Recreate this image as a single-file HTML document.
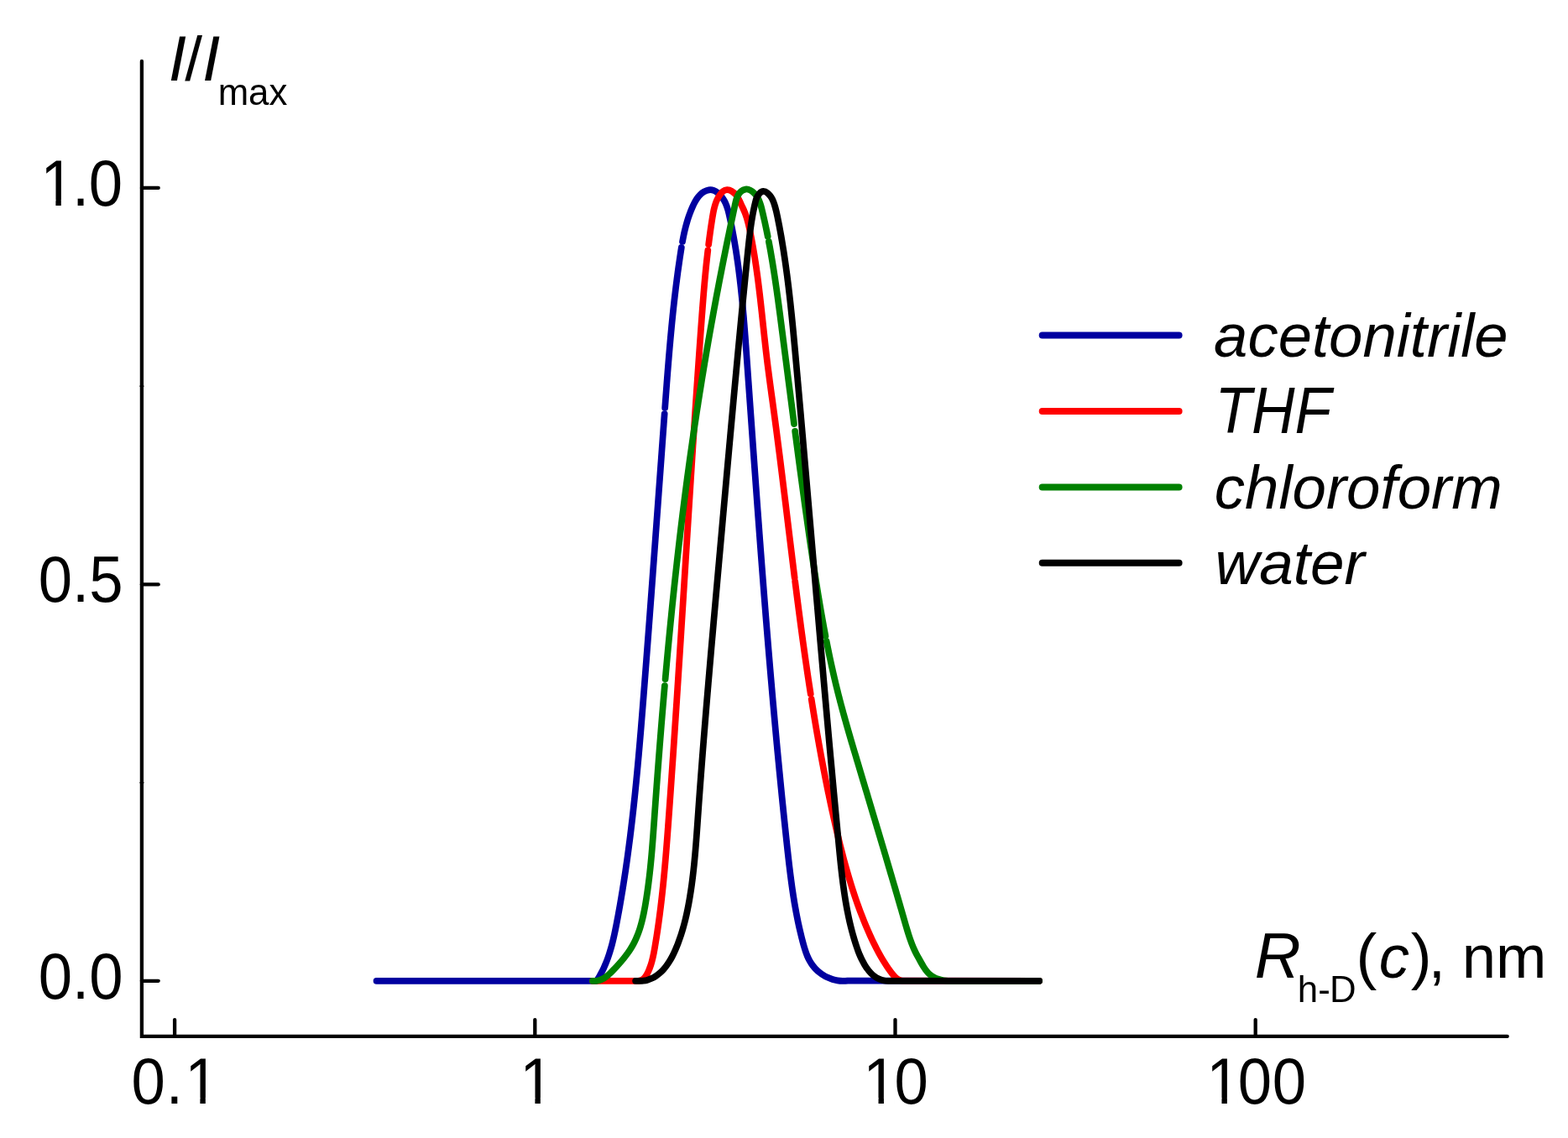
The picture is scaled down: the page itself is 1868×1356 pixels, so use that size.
<!DOCTYPE html>
<html lang="en"><head><meta charset="utf-8"><title>Hydrodynamic radius distributions</title>
<style>
html,body{margin:0;padding:0;background:#fff;}
body{width:1868px;height:1356px;overflow:hidden;}
svg{display:block;}
text{font-family:"Liberation Sans",Arial,Helvetica,sans-serif;fill:#000;font-size:72.5px;font-kerning:none;}
.s{font-size:43.8px;}
.i{font-style:italic;}
.ax{stroke:#000;stroke-width:4.3;stroke-linecap:round;stroke-linejoin:miter;fill:none;}
.c{fill:none;stroke-width:7.75;stroke-linecap:round;stroke-linejoin:round;}
.l{fill:none;stroke-width:8;stroke-linecap:round;}
</style></head><body>
<svg width="1868" height="1356" viewBox="0 0 1868 1356" role="img" aria-label="Normalised intensity distributions of hydrodynamic radius in four solvents">
<defs><clipPath id="c1"><rect x="-6" y="-80" width="420" height="73.58"/><rect x="18.23" y="-80" width="6.41" height="86"/><rect x="37.6" y="-80" width="380" height="100"/></clipPath><clipPath id="c2"><rect x="-6" y="-80" width="420" height="73.58"/><rect x="82.00" y="-80" width="6.41" height="86"/><rect x="-6" y="-80" width="74.37" height="100"/></clipPath></defs>
<rect width="1868" height="1356" fill="#fff"/>
<g class="c" stroke="#0000a0">
<path d="M448.50 1168.85L710.62 1168.85C711.744 1167.158 712.813 1165.639 713.832 1163.906C714.850 1162.172 715.818 1160.419 716.739 1158.648C717.661 1156.876 718.535 1155.087 719.367 1153.281C720.199 1151.475 720.989 1149.653 721.739 1147.816C722.489 1145.979 723.201 1144.127 723.878 1142.262C724.555 1140.397 725.197 1138.519 725.808 1136.629C726.419 1134.740 726.999 1132.838 727.552 1130.927C728.105 1129.016 728.631 1127.095 729.134 1125.166C729.638 1123.237 730.118 1121.300 730.579 1119.356C731.040 1117.412 731.482 1115.461 731.909 1113.506C732.335 1111.550 732.747 1109.590 733.148 1107.626C733.548 1105.663 733.937 1103.696 734.319 1101.727C734.701 1099.758 735.076 1097.788 735.447 1095.818C735.818 1093.848 736.185 1091.877 736.547 1089.905C736.909 1087.934 737.267 1085.962 737.621 1083.990C737.975 1082.018 738.324 1080.045 738.669 1078.072C739.014 1076.099 739.355 1074.126 739.692 1072.152C740.029 1070.178 740.362 1068.203 740.690 1066.228C741.019 1064.253 741.344 1062.278 741.665 1060.303C741.986 1058.327 742.302 1056.351 742.616 1054.374C742.929 1052.398 743.238 1050.421 743.544 1048.444C743.849 1046.466 744.151 1044.489 744.449 1042.511C744.748 1040.533 745.042 1038.554 745.333 1036.575C745.624 1034.597 745.912 1032.617 746.196 1030.638C746.480 1028.658 746.761 1026.678 747.038 1024.698C747.315 1022.718 747.589 1020.737 747.860 1018.756C748.130 1016.775 748.398 1014.794 748.662 1012.813C748.926 1010.831 749.187 1008.849 749.445 1006.867C749.703 1004.885 749.958 1002.902 750.210 1000.919C750.462 998.936 750.711 996.953 750.957 994.970C751.203 992.986 751.446 991.002 751.686 989.018C751.927 987.034 752.164 985.050 752.399 983.065C752.634 981.081 752.866 979.096 753.095 977.111C753.325 975.126 753.552 973.140 753.776 971.155C754.000 969.169 754.222 967.183 754.441 965.197C754.661 963.211 754.878 961.224 755.092 959.238C755.307 957.251 755.519 955.264 755.729 953.277C755.939 951.290 756.147 949.302 756.352 947.315C756.558 945.327 756.761 943.340 756.963 941.352C757.164 939.364 757.363 937.376 757.560 935.387C757.758 933.399 757.953 931.410 758.146 929.422C758.340 927.433 758.531 925.444 758.721 923.455C758.911 921.466 759.099 919.477 759.285 917.487C759.471 915.498 759.656 913.508 759.839 911.518C760.022 909.529 760.203 907.539 760.383 905.549C760.563 903.559 760.741 901.569 760.918 899.578C761.095 897.588 761.270 895.598 761.444 893.607C761.619 891.617 761.791 889.626 761.963 887.635C762.134 885.645 762.305 883.654 762.474 881.663C762.643 879.672 762.811 877.681 762.978 875.690C763.145 873.698 763.311 871.707 763.476 869.716C763.641 867.725 763.805 865.733 763.968 863.742C764.131 861.750 764.293 859.759 764.454 857.767C764.616 855.776 764.776 853.784 764.936 851.792C765.096 849.801 765.256 847.809 765.414 845.817C765.573 843.825 765.731 841.834 765.889 839.842C766.046 837.850 766.203 835.858 766.360 833.866C766.517 831.875 766.673 829.883 766.829 827.891C766.985 825.899 767.140 823.907 767.296 821.915C767.451 819.923 767.606 817.931 767.761 815.940C767.916 813.948 768.070 811.956 768.225 809.964C768.379 807.972 768.533 805.980 768.687 803.988C768.841 801.997 768.994 800.005 769.148 798.013C769.301 796.021 769.454 794.029 769.607 792.037C769.760 790.045 769.913 788.054 770.065 786.062C770.218 784.070 770.370 782.078 770.522 780.086C770.674 778.094 770.826 776.102 770.978 774.110C771.129 772.118 771.281 770.126 771.432 768.135C771.583 766.143 771.734 764.151 771.885 762.159C772.036 760.167 772.186 758.175 772.337 756.183C772.487 754.191 772.638 752.199 772.788 750.207C772.938 748.215 773.088 746.223 773.237 744.231C773.387 742.239 773.537 740.247 773.686 738.255C773.835 736.263 773.984 734.271 774.134 732.279C774.283 730.287 774.431 728.294 774.580 726.302C774.729 724.310 774.877 722.318 775.026 720.326C775.174 718.334 775.323 716.342 775.471 714.349C775.619 712.357 775.767 710.365 775.915 708.373C776.063 706.380 776.210 704.388 776.358 702.396C776.505 700.403 776.653 698.411 776.800 696.419C776.948 694.426 777.095 692.434 777.242 690.442C777.389 688.449 777.536 686.457 777.683 684.464C777.830 682.472 777.977 680.479 778.123 678.487C778.270 676.494 778.416 674.502 778.563 672.509C778.709 670.517 778.856 668.524 779.002 666.531C779.148 664.539 779.294 662.546 779.441 660.553C779.587 658.561 779.733 656.568 779.879 654.575C780.025 652.582 780.170 650.590 780.316 648.597C780.462 646.604 780.608 644.611 780.753 642.618C780.899 640.625 781.045 638.632 781.190 636.639C781.336 634.646 781.481 632.653 781.627 630.660C781.772 628.667 781.917 626.674 782.063 624.681C782.208 622.687 782.353 620.694 782.499 618.701C782.644 616.708 782.789 614.714 782.934 612.721C783.079 610.728 783.225 608.734 783.370 606.741C783.515 604.747 783.660 602.754 783.805 600.760C783.950 598.767 784.095 596.773 784.240 594.780C784.385 592.786 784.530 590.792 784.675 588.799C784.820 586.805 784.965 584.811 785.110 582.817C785.255 580.823 785.401 578.830 785.546 576.836C785.691 574.842 785.836 572.848 785.981 570.854C786.126 568.860 786.271 566.866 786.416 564.871C786.561 562.877 786.706 560.883 786.851 558.889C786.996 556.894 787.142 554.900 787.287 552.906C787.432 550.911 787.577 548.917 787.722 546.922C787.868 544.928 788.013 542.933 788.158 540.939C788.304 538.944 788.449 536.949 788.595 534.955C788.740 532.960 788.886 530.965 789.031 528.970C789.177 526.975 789.322 524.980 789.468 522.985C789.614 520.990 789.759 518.995 789.905 517.000C790.051 515.005 790.197 513.010 790.343 511.014C790.489 509.019 790.635 507.024 790.781 505.028C790.927 503.033 791.074 501.037 791.220 499.042C791.366 497.046 791.513 495.051 791.659 493.055"/>
<path d="M792.18 485.97C792.327 483.966 792.474 481.967 792.622 479.967C792.769 477.968 792.917 475.969 793.065 473.970C793.214 471.970 793.362 469.971 793.512 467.972C793.661 465.972 793.811 463.973 793.962 461.974C794.112 459.975 794.264 457.976 794.416 455.977C794.569 453.978 794.722 451.979 794.877 449.980C795.031 447.982 795.186 445.983 795.343 443.985C795.500 441.986 795.658 439.988 795.817 437.990C795.977 435.992 796.138 433.994 796.300 431.997C796.462 429.999 796.626 428.002 796.792 426.005C796.957 424.008 797.124 422.011 797.294 420.015C797.463 418.018 797.634 416.022 797.807 414.027C797.980 412.031 798.155 410.035 798.332 408.040C798.509 406.045 798.688 404.051 798.870 402.057C799.051 400.062 799.235 398.069 799.422 396.075C799.608 394.082 799.797 392.089 799.988 390.097C800.180 388.104 800.374 386.112 800.571 384.121C800.768 382.129 800.968 380.139 801.170 378.148C801.373 376.158 801.578 374.168 801.787 372.179C801.996 370.190 802.207 368.201 802.422 366.213C802.637 364.225 802.855 362.238 803.077 360.251C803.299 358.265 803.524 356.279 803.752 354.293C803.981 352.308 804.213 350.323 804.449 348.339C804.684 346.355 804.924 344.372 805.167 342.390C805.411 340.407 805.658 338.426 805.909 336.445C806.160 334.464 806.416 332.484 806.675 330.505C806.934 328.526 807.198 326.547 807.466 324.570C807.734 322.592 808.006 320.615 808.283 318.640C808.559 316.664 808.840 314.689 809.126 312.715C809.412 310.741 809.702 308.768 809.998 306.796C810.293 304.824 810.593 302.853 810.898 300.883C811.203 298.913 811.514 296.944 811.836 294.977"/>
<path d="M813.05 287.91C813.404 285.951 813.776 283.993 814.170 282.038C814.563 280.082 814.978 278.131 815.420 276.184C815.862 274.237 816.330 272.295 816.829 270.358C817.329 268.420 817.860 266.488 818.427 264.563C818.994 262.637 819.598 260.717 820.243 258.804C820.888 256.891 821.574 254.984 822.306 253.086C823.038 251.187 823.816 249.296 824.646 247.413C825.475 245.531 826.351 243.647 827.299 241.808C828.248 239.970 829.273 238.181 830.409 236.508C831.545 234.834 832.792 233.275 834.186 231.896C835.581 230.517 837.122 229.318 838.847 228.363C840.571 227.408 842.512 226.677 844.474 226.376C846.435 226.074 848.380 226.265 850.209 226.906C852.038 227.547 853.768 228.604 855.359 229.907C856.950 231.209 858.402 232.759 859.676 234.385C860.951 236.012 862.045 237.712 862.997 239.470C863.950 241.227 864.760 243.042 865.467 244.898C866.174 246.754 866.777 248.650 867.315 250.572C867.853 252.494 868.325 254.440 868.771 256.395C869.216 258.350 869.639 260.312 870.057 262.273C870.475 264.234 870.883 266.197 871.281 268.160C871.680 270.124 872.069 272.089 872.449 274.055C872.830 276.021 873.201 277.989 873.563 279.957C873.926 281.926 874.280 283.896 874.625 285.867C874.970 287.838 875.308 289.810 875.637 291.783C875.966 293.756 876.287 295.730 876.600 297.705C876.914 299.681 877.219 301.657 877.518 303.634C877.816 305.612 878.107 307.590 878.391 309.569C878.675 311.549 878.953 313.529 879.223 315.510C879.494 317.491 879.757 319.473 880.015 321.456C880.273 323.439 880.524 325.422 880.769 327.407C881.015 329.391 881.254 331.377 881.488 333.363C881.722 335.349 881.950 337.336 882.173 339.323C882.396 341.311 882.613 343.299 882.826 345.288C883.039 347.277 883.247 349.267 883.450 351.257C883.653 353.247 883.852 355.238 884.046 357.229C884.241 359.221 884.431 361.213 884.617 363.205C884.804 365.198 884.986 367.191 885.165 369.184C885.344 371.178 885.519 373.172 885.692 375.166C885.864 377.161 886.033 379.155 886.199 381.151C886.365 383.146 886.528 385.141 886.689 387.137C886.850 389.133 887.008 391.130 887.164 393.126C887.320 395.123 887.474 397.120 887.626 399.117C887.778 401.114 887.928 403.111 888.077 405.109C888.226 407.106 888.373 409.104 888.520 411.102C888.666 413.100 888.811 415.098 888.955 417.096C889.099 419.094 889.243 421.092 889.386 423.090C889.529 425.089 889.671 427.087 889.814 429.085C889.956 431.084 890.099 433.082 890.241 435.080C890.383 437.079 890.526 439.077 890.668 441.075C890.810 443.074 890.952 445.072 891.094 447.070C891.237 449.069 891.379 451.067 891.521 453.065C891.663 455.064 891.805 457.062 891.947 459.060C892.089 461.059 892.231 463.057 892.374 465.055C892.516 467.054 892.658 469.052 892.800 471.050C892.942 473.048 893.084 475.047 893.226 477.045C893.368 479.043 893.510 481.042 893.652 483.040C893.795 485.038 893.937 487.036 894.079 489.035C894.221 491.033 894.363 493.031 894.506 495.029C894.648 497.028 894.790 499.026 894.933 501.024C895.075 503.022 895.218 505.020 895.360 507.019C895.502 509.017 895.645 511.015 895.788 513.013C895.930 515.011 896.073 517.009 896.216 519.008C896.358 521.006 896.501 523.004 896.644 525.002C896.787 527.000 896.930 528.998 897.073 530.996C897.216 532.994 897.360 534.992 897.503 536.990C897.646 538.988 897.790 540.986 897.933 542.984C898.077 544.982 898.220 546.980 898.364 548.978C898.508 550.976 898.652 552.974 898.796 554.972C898.940 556.970 899.084 558.968 899.228 560.966C899.373 562.964 899.517 564.962 899.662 566.960C899.806 568.958 899.951 570.955 900.096 572.953C900.241 574.951 900.386 576.949 900.531 578.947C900.676 580.944 900.822 582.942 900.967 584.940C901.113 586.938 901.259 588.935 901.404 590.933C901.550 592.931 901.697 594.928 901.843 596.926C901.989 598.924 902.136 600.921 902.282 602.919C902.429 604.916 902.576 606.914 902.723 608.911C902.870 610.909 903.018 612.907 903.165 614.904C903.313 616.901 903.460 618.899 903.608 620.896C903.756 622.894 903.905 624.891 904.053 626.889C904.202 628.886 904.350 630.883 904.499 632.881C904.648 634.878 904.798 636.875 904.947 638.872C905.097 640.870 905.246 642.867 905.396 644.864C905.546 646.861 905.697 648.858 905.847 650.856C905.998 652.853 906.148 654.850 906.300 656.847C906.451 658.844 906.602 660.841 906.754 662.838C906.905 664.835 907.057 666.832 907.210 668.829C907.362 670.826 907.515 672.822 907.667 674.819C907.820 676.816 907.974 678.813 908.127 680.810C908.281 682.806 908.434 684.803 908.589 686.800C908.743 688.797 908.897 690.793 909.052 692.790C909.207 694.787 909.362 696.783 909.518 698.780C909.673 700.776 909.829 702.773 909.985 704.769C910.142 706.766 910.298 708.762 910.455 710.758C910.612 712.755 910.769 714.751 910.927 716.747C911.085 718.744 911.243 720.740 911.401 722.736C911.560 724.732 911.719 726.729 911.878 728.725C912.037 730.721 912.197 732.717 912.357 734.713C912.517 736.709 912.677 738.705 912.838 740.701C912.999 742.697 913.160 744.693 913.322 746.689C913.483 748.684 913.645 750.680 913.808 752.676C913.971 754.672 914.133 756.667 914.297 758.663C914.460 760.659 914.624 762.654 914.788 764.650C914.953 766.645 915.117 768.641 915.282 770.636C915.448 772.632 915.613 774.627 915.779 776.623C915.945 778.618 916.112 780.613 916.279 782.609C916.446 784.604 916.613 786.599 916.781 788.594C916.949 790.589 917.118 792.584 917.287 794.579C917.456 796.574 917.625 798.569 917.795 800.564C917.965 802.559 918.136 804.554 918.306 806.549C918.477 808.544 918.649 810.539 918.821 812.533C918.993 814.528 919.165 816.523 919.338 818.517C919.511 820.512 919.685 822.506 919.859 824.501C920.033 826.495 920.208 828.490 920.383 830.484C920.558 832.479 920.734 834.473 920.910 836.467C921.086 838.461 921.263 840.456 921.440 842.450C921.618 844.444 921.796 846.438 921.974 848.432C922.153 850.426 922.332 852.420 922.512 854.414C922.691 856.408 922.872 858.401 923.052 860.395C923.233 862.389 923.415 864.383 923.597 866.376C923.779 868.370 923.961 870.364 924.145 872.357C924.328 874.351 924.512 876.344 924.696 878.337C924.881 880.331 925.066 882.324 925.251 884.317C925.437 886.310 925.623 888.304 925.810 890.297C925.997 892.290 926.185 894.283 926.373 896.276C926.561 898.269 926.750 900.262 926.940 902.255C927.129 904.247 927.320 906.240 927.510 908.233C927.701 910.225 927.893 912.218 928.085 914.211C928.277 916.203 928.470 918.196 928.664 920.188C928.857 922.180 929.051 924.173 929.246 926.165C929.441 928.157 929.637 930.149 929.833 932.142C930.029 934.134 930.226 936.126 930.424 938.118C930.622 940.110 930.820 942.102 931.019 944.093C931.218 946.085 931.418 948.077 931.619 950.069C931.819 952.060 932.021 954.052 932.223 956.043C932.425 958.035 932.627 960.026 932.831 962.018C933.034 964.009 933.239 966.000 933.444 967.991C933.649 969.983 933.854 971.974 934.061 973.965C934.267 975.956 934.475 977.947 934.683 979.938C934.891 981.928 935.100 983.919 935.309 985.910C935.519 987.901 935.729 989.891 935.940 991.882C936.151 993.872 936.363 995.863 936.576 997.853C936.789 999.844 937.002 1001.834 937.217 1003.824C937.431 1005.814 937.646 1007.804 937.862 1009.794C938.078 1011.784 938.296 1013.774 938.515 1015.764C938.734 1017.754 938.956 1019.743 939.180 1021.732C939.403 1023.721 939.630 1025.710 939.860 1027.698C940.090 1029.687 940.323 1031.674 940.560 1033.662C940.798 1035.649 941.039 1037.636 941.285 1039.622C941.532 1041.608 941.783 1043.594 942.039 1045.579C942.296 1047.564 942.558 1049.548 942.826 1051.531C943.094 1053.515 943.369 1055.497 943.650 1057.479C943.931 1059.461 944.220 1061.441 944.516 1063.421C944.812 1065.401 945.116 1067.380 945.428 1069.357C945.740 1071.335 946.060 1073.311 946.390 1075.287C946.719 1077.262 947.058 1079.236 947.406 1081.209C947.755 1083.182 948.113 1085.154 948.482 1087.124C948.850 1089.094 949.230 1091.063 949.620 1093.030C950.011 1094.997 950.413 1096.963 950.826 1098.928C951.240 1100.892 951.666 1102.855 952.104 1104.816C952.542 1106.777 952.993 1108.736 953.458 1110.694C953.922 1112.651 954.400 1114.607 954.892 1116.561C955.384 1118.515 955.890 1120.467 956.411 1122.417C956.932 1124.367 957.464 1126.317 958.029 1128.255C958.593 1130.192 959.189 1132.116 959.840 1134.011C960.490 1135.907 961.196 1137.774 961.978 1139.598C962.760 1141.422 963.619 1143.202 964.578 1144.925C965.536 1146.647 966.596 1148.311 967.772 1149.903C968.948 1151.494 970.235 1153.013 971.617 1154.450C973.000 1155.886 974.478 1157.239 976.038 1158.498C977.599 1159.757 979.240 1160.921 980.950 1161.980C982.659 1163.038 984.435 1163.991 986.265 1164.828C988.094 1165.664 989.976 1166.383 991.897 1166.975C993.818 1167.566 995.777 1168.029 997.761 1168.354C999.744 1168.678 1001.752 1168.816 1003.769 1168.850C1005.787 1168.850 1007.814 1168.815 1009.837 1168.537L1238.10 1168.85"/>
</g>
<g class="c" stroke="#ff0000">
<path d="M705.95 1168.85L760.51 1168.85C762.705 1168.513 764.514 1167.875 766.038 1166.701C767.562 1165.528 768.802 1164.020 769.863 1162.345C770.924 1160.671 771.809 1158.833 772.618 1156.988C773.426 1155.144 774.149 1153.276 774.801 1151.389C775.453 1149.501 776.034 1147.595 776.560 1145.673C777.087 1143.751 777.558 1141.815 777.990 1139.868C778.422 1137.921 778.814 1135.964 779.182 1134.001C779.551 1132.038 779.895 1130.069 780.230 1128.099C780.566 1126.129 780.894 1124.158 781.216 1122.186C781.538 1120.214 781.854 1118.242 782.162 1116.269C782.471 1114.295 782.774 1112.321 783.070 1110.347C783.366 1108.372 783.657 1106.396 783.941 1104.420C784.225 1102.444 784.504 1100.467 784.776 1098.490C785.049 1096.512 785.316 1094.534 785.578 1092.556C785.839 1090.577 786.096 1088.597 786.347 1086.617C786.598 1084.637 786.844 1082.657 787.085 1080.676C787.326 1078.695 787.562 1076.713 787.793 1074.731C788.024 1072.749 788.251 1070.766 788.473 1068.783C788.696 1066.799 788.913 1064.816 789.127 1062.831C789.341 1060.847 789.550 1058.863 789.756 1056.877C789.961 1054.892 790.163 1052.907 790.361 1050.921C790.559 1048.935 790.753 1046.948 790.944 1044.962C791.134 1042.975 791.322 1040.988 791.506 1039.000C791.690 1037.013 791.871 1035.025 792.049 1033.037C792.227 1031.049 792.402 1029.060 792.574 1027.071C792.746 1025.083 792.916 1023.094 793.083 1021.104C793.250 1019.115 793.415 1017.126 793.577 1015.136C793.740 1013.146 793.900 1011.156 794.058 1009.166C794.216 1007.176 794.372 1005.185 794.527 1003.195C794.682 1001.204 794.834 999.213 794.986 997.223C795.137 995.232 795.287 993.241 795.435 991.250C795.584 989.259 795.731 987.267 795.878 985.276C796.024 983.285 796.170 981.294 796.314 979.302C796.459 977.311 796.603 975.320 796.746 973.328C796.889 971.337 797.032 969.345 797.175 967.354C797.318 965.362 797.460 963.371 797.602 961.380C797.744 959.388 797.885 957.397 798.026 955.406C798.168 953.414 798.308 951.423 798.449 949.431C798.589 947.440 798.730 945.449 798.870 943.457C799.009 941.466 799.149 939.475 799.288 937.483C799.427 935.492 799.566 933.501 799.705 931.509C799.843 929.518 799.982 927.527 800.120 925.535C800.257 923.544 800.395 921.553 800.532 919.561C800.670 917.570 800.807 915.579 800.944 913.587C801.080 911.596 801.217 909.605 801.353 907.613C801.489 905.622 801.625 903.631 801.761 901.639C801.896 899.648 802.032 897.657 802.167 895.665C802.302 893.674 802.437 891.683 802.571 889.691C802.706 887.700 802.840 885.709 802.974 883.717C803.108 881.726 803.242 879.735 803.375 877.743C803.509 875.752 803.642 873.760 803.775 871.769C803.908 869.778 804.041 867.786 804.173 865.795C804.306 863.804 804.438 861.812 804.570 859.821C804.702 857.830 804.834 855.838 804.966 853.847C805.097 851.855 805.229 849.864 805.360 847.873C805.491 845.881 805.622 843.890 805.753 841.898C805.884 839.907 806.014 837.915 806.145 835.924C806.275 833.933 806.405 831.941 806.535 829.950C806.665 827.958 806.795 825.967 806.925 823.975C807.054 821.984 807.184 819.992 807.313 818.001C807.442 816.009 807.571 814.018 807.700 812.026C807.829 810.035 807.958 808.043 808.087 806.052C808.215 804.060 808.344 802.068 808.472 800.077C808.600 798.085 808.728 796.094 808.856 794.102C808.984 792.110 809.112 790.119 809.240 788.127C809.368 786.136 809.495 784.144 809.623 782.152C809.750 780.161 809.877 778.169 810.004 776.177C810.132 774.185 810.259 772.194 810.386 770.202C810.513 768.210 810.639 766.219 810.766 764.227C810.893 762.235 811.019 760.243 811.146 758.251C811.272 756.260 811.399 754.268 811.525 752.276C811.651 750.284 811.777 748.292 811.904 746.300C812.030 744.308 812.156 742.316 812.282 740.325C812.408 738.333 812.533 736.341 812.659 734.349C812.785 732.357 812.911 730.365 813.036 728.373C813.162 726.381 813.288 724.389 813.413 722.397C813.539 720.404 813.664 718.412 813.790 716.420C813.915 714.428 814.040 712.436 814.166 710.444C814.291 708.452 814.416 706.459 814.541 704.467C814.667 702.475 814.792 700.483 814.917 698.491C815.042 696.498 815.167 694.506 815.292 692.514C815.418 690.521 815.543 688.529 815.668 686.537C815.793 684.544 815.918 682.552 816.043 680.559C816.168 678.567 816.293 676.575 816.418 674.582C816.543 672.590 816.668 670.597 816.793 668.604C816.918 666.612 817.043 664.619 817.168 662.627C817.293 660.634 817.419 658.641 817.544 656.649C817.669 654.656 817.794 652.663 817.919 650.671C818.044 648.678 818.169 646.685 818.295 644.692C818.420 642.699 818.545 640.707 818.670 638.714C818.796 636.721 818.921 634.728 819.046 632.735C819.172 630.742 819.297 628.749 819.423 626.756C819.548 624.763 819.674 622.770 819.800 620.777C819.925 618.784 820.051 616.792 820.177 614.798C820.303 612.805 820.429 610.812 820.555 608.819C820.681 606.826 820.807 604.833 820.933 602.840C821.059 600.847 821.185 598.854 821.312 596.861C821.438 594.868 821.564 592.875 821.691 590.882C821.818 588.889 821.944 586.896 822.071 584.903C822.198 582.910 822.325 580.917 822.452 578.924C822.579 576.931 822.706 574.938 822.834 572.945C822.961 570.952 823.089 568.959 823.216 566.966C823.344 564.973 823.472 562.980 823.600 560.988C823.728 558.995 823.856 557.002 823.984 555.009C824.113 553.016 824.241 551.023 824.370 549.031C824.498 547.038 824.627 545.045 824.756 543.052C824.885 541.060 825.014 539.067 825.144 537.074C825.273 535.082 825.403 533.089 825.533 531.096C825.662 529.104 825.792 527.111 825.923 525.119C826.053 523.126 826.183 521.134 826.314 519.142C826.444 517.149 826.575 515.157 826.706 513.165C826.838 511.172 826.969 509.180 827.100 507.188C827.232 505.196 827.364 503.204 827.496 501.212C827.628 499.220 827.760 497.228 827.893 495.236C828.025 493.244 828.158 491.252 828.291 489.260C828.424 487.268 828.557 485.277 828.691 483.285C828.825 481.293 828.959 479.302 829.093 477.310C829.227 475.319 829.361 473.327 829.496 471.336C829.631 469.345 829.766 467.353 829.901 465.362C830.036 463.371 830.172 461.380 830.308 459.389C830.444 457.398 830.580 455.407 830.717 453.416C830.853 451.425 830.990 449.435 831.127 447.444C831.264 445.453 831.402 443.463 831.540 441.472C831.678 439.482 831.816 437.491 831.954 435.501C832.093 433.511 832.232 431.521 832.371 429.531C832.510 427.541 832.650 425.551 832.790 423.561C832.930 421.571 833.070 419.581 833.211 417.592C833.351 415.602 833.492 413.613 833.634 411.623C833.775 409.634 833.917 407.645 834.059 405.656C834.201 403.666 834.344 401.677 834.487 399.689C834.630 397.700 834.773 395.711 834.917 393.722C835.060 391.734 835.205 389.745 835.349 387.757C835.494 385.768 835.639 383.780 835.785 381.792C835.931 379.804 836.077 377.816 836.225 375.828C836.373 373.840 836.522 371.852 836.672 369.865C836.823 367.877 836.975 365.890 837.128 363.902C837.282 361.915 837.438 359.928 837.595 357.940C837.753 355.953 837.913 353.966 838.075 351.979C838.238 349.992 838.402 348.005 838.570 346.018C838.737 344.031 838.908 342.045 839.081 340.058C839.255 338.071 839.431 336.085 839.612 334.098C839.792 332.112 839.975 330.126 840.163 328.139C840.350 326.153 840.541 324.167 840.737 322.180C840.932 320.194 841.131 318.208 841.335 316.222C841.539 314.236 841.748 312.250 841.961 310.264C842.174 308.278 842.392 306.292 842.615 304.307C842.838 302.321 843.066 300.335 843.300 298.349"/>
<path d="M844.17 291.19C844.415 289.193 844.670 287.200 844.930 285.206C845.191 283.212 845.457 281.218 845.731 279.225C846.004 277.231 846.284 275.237 846.571 273.244C846.857 271.250 847.151 269.256 847.452 267.263C847.753 265.269 848.061 263.276 848.377 261.282C848.693 259.288 849.011 257.293 849.359 255.305C849.707 253.317 850.086 251.338 850.532 249.378C850.979 247.418 851.492 245.479 852.106 243.572C852.721 241.664 853.437 239.789 854.291 237.958C855.144 236.126 856.133 234.339 857.295 232.608C858.456 230.876 859.792 229.168 861.304 227.940C862.816 226.713 864.530 226.052 866.348 226.098C868.165 226.143 870.058 226.804 871.810 227.847C873.562 228.890 875.139 230.303 876.462 231.900C877.784 233.497 878.893 235.291 879.888 237.155C880.882 239.019 881.761 240.952 882.623 242.827C883.484 244.701 884.349 246.488 885.179 248.252C886.009 250.016 886.794 251.776 887.500 253.590C888.207 255.403 888.846 257.256 889.432 259.138C890.019 261.020 890.552 262.931 891.048 264.862C891.544 266.793 892.003 268.743 892.438 270.703C892.873 272.662 893.286 274.632 893.690 276.601C894.095 278.571 894.488 280.542 894.873 282.514C895.257 284.487 895.631 286.460 895.997 288.436C896.362 290.411 896.718 292.387 897.066 294.364C897.413 296.342 897.752 298.321 898.083 300.300C898.414 302.280 898.736 304.261 899.052 306.243C899.367 308.225 899.675 310.208 899.975 312.192C900.276 314.176 900.570 316.160 900.858 318.146C901.145 320.132 901.426 322.118 901.701 324.106C901.977 326.093 902.246 328.081 902.510 330.070C902.774 332.058 903.033 334.048 903.287 336.038C903.541 338.028 903.790 340.019 904.036 342.010C904.281 344.001 904.522 345.993 904.759 347.985C904.997 349.977 905.230 351.969 905.461 353.962C905.692 355.955 905.919 357.948 906.144 359.942C906.369 361.935 906.592 363.929 906.812 365.923C907.033 367.917 907.252 369.911 907.469 371.906C907.686 373.900 907.902 375.894 908.117 377.888C908.332 379.883 908.546 381.877 908.760 383.871C908.974 385.866 909.187 387.860 909.401 389.854C909.615 391.848 909.829 393.842 910.043 395.836C910.258 397.829 910.474 399.823 910.691 401.816C910.908 403.809 911.126 405.802 911.347 407.794C911.567 409.787 911.789 411.779 912.014 413.770C912.238 415.762 912.466 417.753 912.696 419.743C912.926 421.733 913.159 423.723 913.396 425.713C913.633 427.702 913.873 429.690 914.117 431.678C914.362 433.666 914.610 435.653 914.862 437.640C915.113 439.626 915.368 441.612 915.626 443.598C915.883 445.583 916.144 447.568 916.406 449.553C916.669 451.537 916.934 453.521 917.200 455.505C917.467 457.489 917.735 459.473 918.004 461.456C918.274 463.440 918.544 465.423 918.815 467.406C919.087 469.390 919.358 471.373 919.630 473.356C919.902 475.339 920.174 477.323 920.446 479.306C920.717 481.289 920.988 483.273 921.258 485.257C921.528 487.240 921.797 489.224 922.065 491.209C922.333 493.193 922.599 495.177 922.864 497.162C923.130 499.147 923.394 501.132 923.657 503.118C923.920 505.103 924.182 507.089 924.443 509.075C924.704 511.060 924.964 513.047 925.223 515.033C925.482 517.019 925.740 519.006 925.997 520.993C926.254 522.979 926.510 524.967 926.765 526.954C927.021 528.941 927.275 530.928 927.529 532.916C927.782 534.904 928.035 536.892 928.287 538.880C928.539 540.868 928.790 542.856 929.041 544.844C929.291 546.833 929.541 548.821 929.790 550.810C930.039 552.799 930.288 554.788 930.536 556.777C930.784 558.766 931.031 560.755 931.278 562.745C931.525 564.734 931.771 566.724 932.017 568.713C932.262 570.703 932.508 572.693 932.753 574.683C932.997 576.673 933.242 578.663 933.486 580.653C933.730 582.643 933.974 584.633 934.217 586.624C934.460 588.614 934.703 590.605 934.946 592.595C935.189 594.586 935.432 596.576 935.674 598.567C935.916 600.558 936.158 602.549 936.400 604.540C936.642 606.530 936.884 608.521 937.126 610.512C937.368 612.503 937.609 614.494 937.851 616.486C938.092 618.477 938.334 620.468 938.575 622.459C938.817 624.450 939.059 626.441 939.300 628.433C939.542 630.424 939.784 632.415 940.026 634.406C940.267 636.398 940.509 638.389 940.752 640.380C940.994 642.371 941.236 644.363 941.479 646.354C941.721 648.345 941.964 650.336 942.207 652.328C942.450 654.319 942.694 656.310 942.937 658.301C943.181 660.292 943.425 662.283 943.670 664.275C943.914 666.266 944.159 668.257 944.405 670.248C944.650 672.239 944.896 674.230 945.142 676.220C945.389 678.211 945.636 680.202 945.883 682.193C946.130 684.183 946.378 686.174 946.627 688.165"/>
<path d="M947.22 692.93C947.468 694.878 947.713 696.824 947.958 698.770C948.204 700.716 948.450 702.663 948.697 704.609C948.944 706.555 949.191 708.501 949.440 710.446C949.688 712.392 949.938 714.338 950.188 716.283C950.438 718.229 950.689 720.174 950.941 722.120C951.193 724.065 951.446 726.010 951.699 727.955C951.953 729.900 952.208 731.845 952.463 733.789C952.719 735.734 952.976 737.678 953.234 739.622C953.491 741.567 953.750 743.511 954.010 745.455C954.270 747.399 954.531 749.342 954.793 751.286C955.055 753.229 955.319 755.173 955.583 757.116C955.848 759.059 956.114 761.002 956.381 762.944C956.648 764.887 956.916 766.829 957.186 768.772C957.455 770.714 957.726 772.656 957.999 774.597C958.271 776.539 958.545 778.481 958.820 780.422C959.095 782.363 959.371 784.304 959.649 786.245C959.927 788.186 960.207 790.126 960.488 792.066C960.769 794.006 961.051 795.946 961.335 797.886C961.619 799.826 961.905 801.765 962.192 803.704C962.480 805.643 962.769 807.582 963.059 809.520C963.350 811.459 963.642 813.397 963.936 815.334C964.230 817.272 964.526 819.210 964.823 821.147C965.121 823.084 965.420 825.021 965.721 826.957"/>
<path d="M966.71 833.28C967.025 835.270 967.341 837.261 967.659 839.252C967.977 841.243 968.297 843.233 968.620 845.223C968.942 847.213 969.266 849.202 969.593 851.191C969.919 853.180 970.248 855.169 970.579 857.157C970.910 859.146 971.243 861.134 971.578 863.121C971.914 865.108 972.251 867.095 972.591 869.082C972.931 871.069 973.274 873.055 973.618 875.040C973.963 877.026 974.310 879.011 974.660 880.996C975.010 882.981 975.362 884.965 975.716 886.949C976.071 888.933 976.428 890.916 976.788 892.899C977.147 894.882 977.510 896.865 977.874 898.846C978.239 900.828 978.607 902.810 978.977 904.791C979.347 906.772 979.720 908.752 980.096 910.732C980.471 912.712 980.849 914.691 981.231 916.670C981.612 918.649 981.996 920.627 982.382 922.605C982.769 924.583 983.159 926.560 983.551 928.537C983.944 930.513 984.339 932.489 984.738 934.465C985.136 936.440 985.537 938.415 985.942 940.390C986.346 942.364 986.753 944.338 987.164 946.311C987.574 948.285 987.988 950.257 988.404 952.229C988.821 954.202 989.241 956.173 989.664 958.144C990.087 960.115 990.513 962.085 990.942 964.055C991.372 966.024 991.805 967.993 992.241 969.962C992.676 971.930 993.116 973.898 993.558 975.865C994.001 977.832 994.447 979.798 994.896 981.764C995.346 983.730 995.799 985.695 996.255 987.660C996.711 989.624 997.171 991.588 997.636 993.551C998.100 995.513 998.568 997.475 999.041 999.436C999.514 1001.396 999.992 1003.356 1000.474 1005.314C1000.957 1007.273 1001.445 1009.230 1001.938 1011.185C1002.431 1013.141 1002.929 1015.095 1003.434 1017.047C1003.938 1019.000 1004.449 1020.950 1004.965 1022.899C1005.482 1024.848 1006.005 1026.795 1006.535 1028.741C1007.065 1030.686 1007.602 1032.629 1008.146 1034.570C1008.690 1036.511 1009.241 1038.450 1009.800 1040.386C1010.359 1042.323 1010.926 1044.257 1011.500 1046.188C1012.075 1048.120 1012.658 1050.049 1013.250 1051.975C1013.841 1053.902 1014.441 1055.825 1015.051 1057.746C1015.660 1059.667 1016.278 1061.585 1016.906 1063.500C1017.533 1065.415 1018.171 1067.326 1018.818 1069.235C1019.465 1071.144 1020.122 1073.049 1020.789 1074.951C1021.457 1076.853 1022.135 1078.751 1022.823 1080.646C1023.512 1082.541 1024.212 1084.433 1024.922 1086.320C1025.633 1088.208 1026.355 1090.092 1027.089 1091.972C1027.823 1093.852 1028.568 1095.728 1029.326 1097.599C1030.083 1099.471 1030.853 1101.339 1031.635 1103.203C1032.418 1105.066 1033.213 1106.925 1034.021 1108.780C1034.829 1110.635 1035.650 1112.485 1036.485 1114.330C1037.319 1116.176 1038.168 1118.016 1039.032 1119.849C1039.897 1121.681 1040.777 1123.507 1041.674 1125.323C1042.572 1127.138 1043.487 1128.945 1044.421 1130.739C1045.355 1132.534 1046.309 1134.317 1047.283 1136.086C1048.258 1137.856 1049.253 1139.611 1050.271 1141.351C1051.290 1143.090 1052.331 1144.814 1053.396 1146.520C1054.462 1148.225 1055.552 1149.913 1056.669 1151.580C1057.785 1153.248 1058.928 1154.895 1060.099 1156.520C1061.270 1158.145 1062.457 1159.766 1063.709 1161.310C1064.962 1162.853 1066.291 1164.301 1067.796 1165.505C1069.302 1166.709 1070.983 1167.669 1072.940 1168.236C1074.897 1168.803 1077.129 1168.850 1079.735 1168.612L1238.10 1168.85"/>
</g>
<g class="c" stroke="#008000">
<path d="M705.95 1168.85L710.98 1168.85C713.152 1168.316 715.122 1167.720 716.945 1166.907C718.768 1166.093 720.444 1165.063 722.024 1163.888C723.604 1162.713 725.089 1161.394 726.529 1160.005C727.969 1158.615 729.368 1157.158 730.768 1155.698C732.168 1154.237 733.562 1152.761 734.940 1151.269C736.318 1149.777 737.681 1148.268 739.019 1146.739C740.356 1145.210 741.669 1143.662 742.948 1142.091C744.227 1140.520 745.472 1138.926 746.674 1137.308C747.875 1135.689 749.034 1134.046 750.140 1132.374C751.247 1130.703 752.301 1129.004 753.294 1127.274C754.286 1125.545 755.218 1123.785 756.094 1121.998C756.969 1120.211 757.789 1118.397 758.559 1116.559C759.329 1114.721 760.049 1112.860 760.723 1110.978C761.398 1109.097 762.028 1107.195 762.619 1105.276C763.209 1103.357 763.761 1101.421 764.278 1099.472C764.795 1097.523 765.279 1095.560 765.734 1093.587C766.190 1091.614 766.616 1089.631 767.020 1087.641C767.424 1085.651 767.805 1083.654 768.169 1081.654C768.532 1079.654 768.879 1077.650 769.213 1075.646C769.547 1073.642 769.870 1071.639 770.181 1069.636C770.493 1067.633 770.794 1065.630 771.085 1063.627C771.376 1061.624 771.657 1059.622 771.929 1057.620C772.200 1055.618 772.462 1053.616 772.715 1051.614C772.969 1049.612 773.213 1047.610 773.450 1045.609C773.686 1043.607 773.915 1041.606 774.136 1039.605C774.357 1037.604 774.570 1035.603 774.777 1033.602C774.984 1031.601 775.184 1029.600 775.379 1027.599C775.573 1025.598 775.761 1023.597 775.944 1021.596C776.127 1019.596 776.304 1017.595 776.477 1015.594C776.650 1013.594 776.818 1011.593 776.982 1009.592C777.147 1007.591 777.307 1005.591 777.464 1003.590C777.621 1001.589 777.774 999.588 777.925 997.587C778.076 995.586 778.225 993.585 778.371 991.584C778.518 989.583 778.662 987.582 778.806 985.581C778.949 983.579 779.091 981.578 779.232 979.576C779.374 977.574 779.515 975.572 779.656 973.570C779.796 971.568 779.938 969.566 780.079 967.564C780.221 965.561 780.363 963.558 780.506 961.556C780.649 959.553 780.792 957.550 780.936 955.546C781.080 953.543 781.224 951.539 781.369 949.536C781.514 947.532 781.660 945.528 781.806 943.524C781.952 941.520 782.098 939.516 782.246 937.511C782.393 935.507 782.540 933.503 782.689 931.498C782.837 929.493 782.986 927.488 783.136 925.483C783.285 923.478 783.436 921.473 783.586 919.468C783.737 917.462 783.889 915.457 784.041 913.451C784.193 911.446 784.345 909.440 784.499 907.434C784.652 905.428 784.806 903.422 784.960 901.416C785.115 899.410 785.270 897.404 785.426 895.397C785.582 893.391 785.739 891.385 785.896 889.378C786.053 887.372 786.211 885.365 786.370 883.358C786.529 881.351 786.688 879.345 786.848 877.338C787.008 875.331 787.169 873.324 787.331 871.317C787.492 869.310 787.654 867.303 787.817 865.295C787.980 863.288 788.144 861.281 788.309 859.274C788.473 857.266 788.638 855.259 788.804 853.252C788.970 851.244 789.137 849.237 789.304 847.229C789.472 845.222 789.640 843.214 789.809 841.207C789.978 839.199 790.148 837.192 790.319 835.184C790.489 833.177 790.661 831.169 790.833 829.161C791.005 827.154 791.179 825.146 791.352 823.139C791.526 821.131 791.701 819.123 791.877 817.116"/>
<path d="M792.58 809.14C792.756 807.137 792.934 805.137 793.113 803.138C793.291 801.139 793.471 799.140 793.652 797.141C793.832 795.141 794.014 793.142 794.196 791.143C794.378 789.144 794.561 787.145 794.745 785.146C794.930 783.147 795.115 781.148 795.300 779.149C795.486 777.150 795.673 775.152 795.861 773.153C796.049 771.154 796.237 769.156 796.427 767.157C796.616 765.158 796.807 763.160 796.998 761.162C797.190 759.163 797.382 757.165 797.576 755.167C797.769 753.168 797.964 751.170 798.159 749.172C798.354 747.174 798.551 745.176 798.748 743.179C798.945 741.181 799.144 739.183 799.343 737.186C799.542 735.188 799.743 733.191 799.944 731.193C800.145 729.196 800.348 727.199 800.551 725.202C800.754 723.205 800.959 721.208 801.164 719.211C801.370 717.214 801.576 715.218 801.784 713.221C801.991 711.225 802.200 709.229 802.409 707.233C802.619 705.237 802.830 703.241 803.042 701.245C803.253 699.249 803.466 697.254 803.680 695.258C803.894 693.263 804.109 691.268 804.326 689.273C804.542 687.278 804.759 685.283 804.977 683.288C805.196 681.294 805.415 679.299 805.636 677.305C805.857 675.311 806.079 673.317 806.301 671.323C806.524 669.330 806.749 667.336 806.974 665.343C807.199 663.349 807.425 661.356 807.653 659.364C807.881 657.371 808.109 655.378 808.339 653.386C808.569 651.393 808.800 649.401 809.033 647.410C809.265 645.418 809.498 643.426 809.733 641.435C809.968 639.443 810.204 637.452 810.441 635.462C810.678 633.471 810.916 631.480 811.156 629.490C811.395 627.500 811.636 625.510 811.878 623.520C812.120 621.531 812.364 619.541 812.608 617.552C812.853 615.563 813.099 613.574 813.346 611.586C813.593 609.597 813.841 607.609 814.091 605.622C814.341 603.634 814.592 601.646 814.844 599.659C815.096 597.672 815.350 595.685 815.605 593.698C815.860 591.712 816.116 589.726 816.373 587.740C816.631 585.754 816.890 583.768 817.150 581.783C817.410 579.798 817.671 577.813 817.934 575.829C818.197 573.845 818.461 571.860 818.727 569.877C818.992 567.893 819.259 565.910 819.528 563.927C819.796 561.944 820.066 559.961 820.337 557.979C820.608 555.997 820.880 554.015 821.154 552.033C821.428 550.052 821.703 548.071 821.980 546.090C822.256 544.109 822.534 542.129 822.814 540.149C823.093 538.169 823.374 536.189 823.656 534.209C823.938 532.230 824.222 530.251 824.507 528.272C824.792 526.293 825.078 524.314 825.366 522.336C825.654 520.358 825.943 518.380 826.234 516.402C826.524 514.424 826.816 512.447 827.110 510.469C827.403 508.492 827.698 506.515 827.994 504.538C828.290 502.562 828.588 500.585 828.887 498.609C829.186 496.633 829.487 494.657 829.789 492.681C830.091 490.705 830.394 488.729 830.699 486.754C831.004 484.779 831.310 482.803 831.618 480.828C831.925 478.853 832.235 476.878 832.545 474.904C832.856 472.929 833.168 470.955 833.481 468.980C833.795 467.006 834.110 465.032 834.426 463.058C834.742 461.083 835.060 459.110 835.379 457.136C835.699 455.162 836.019 453.188 836.341 451.215C836.664 449.241 836.987 447.268 837.312 445.294C837.637 443.321 837.964 441.348 838.292 439.375C838.620 437.401 838.949 435.428 839.280 433.455C839.611 431.482 839.944 429.509 840.277 427.537C840.611 425.564 840.947 423.591 841.283 421.618C841.620 419.645 841.959 417.672 842.298 415.700C842.638 413.727 842.979 411.754 843.322 409.782C843.665 407.809 844.009 405.836 844.355 403.864C844.701 401.891 845.048 399.918 845.397 397.946C845.745 395.973 846.096 394.000 846.447 392.027C846.799 390.055 847.152 388.082 847.507 386.109C847.862 384.136 848.218 382.164 848.576 380.191C848.933 378.218 849.293 376.245 849.653 374.272C850.014 372.299 850.376 370.326 850.740 368.352C851.104 366.379 851.469 364.406 851.836 362.432C852.203 360.459 852.571 358.486 852.941 356.512C853.311 354.538 853.682 352.565 854.055 350.591C854.428 348.617 854.802 346.643 855.178 344.669C855.554 342.695 855.932 340.720 856.311 338.746C856.690 336.772 857.070 334.797 857.453 332.822C857.835 330.848 858.218 328.873 858.604 326.898C858.989 324.922 859.375 322.947 859.764 320.972C860.152 318.996 860.542 317.020 860.933 315.045C861.325 313.069 861.718 311.092 862.112 309.116C862.507 307.140 862.903 305.163 863.300 303.186C863.698 301.210 864.097 299.232 864.498 297.255C864.899 295.278 865.301 293.300 865.705 291.322C866.109 289.344 866.514 287.366 866.921 285.388C867.328 283.410 867.737 281.431 868.147 279.452C868.557 277.473 868.969 275.494 869.382 273.514C869.796 271.534 870.211 269.554 870.627 267.574C871.044 265.594 871.462 263.613 871.882 261.632C872.301 259.651 872.723 257.670 873.145 255.688C873.568 253.707 873.993 251.725 874.419 249.742C874.845 247.760 875.273 245.777 875.702 243.794C876.131 241.811 876.566 239.830 877.126 237.925C877.686 236.020 878.371 234.191 879.301 232.511C880.231 230.831 881.425 229.278 882.934 228.006C884.444 226.733 886.235 225.821 888.119 225.573C890.003 225.324 891.957 225.709 893.754 226.608C895.550 227.506 897.196 228.835 898.595 230.249C899.995 231.664 901.175 233.221 902.188 234.885C903.201 236.550 904.046 238.322 904.776 240.166C905.506 242.011 906.120 243.927 906.671 245.879C907.221 247.832 907.708 249.821 908.182 251.812C908.657 253.802 909.121 255.792 909.578 257.781C910.034 259.770 910.481 261.758 910.920 263.746C911.359 265.733 911.789 267.720 912.211 269.707C912.634 271.693 913.048 273.678 913.454 275.664C913.861 277.649 914.260 279.633 914.651 281.617"/>
<path d="M915.88 287.95C916.248 289.907 916.613 291.863 916.971 293.819C917.330 295.775 917.682 297.730 918.028 299.685C918.374 301.641 918.714 303.595 919.049 305.550C919.383 307.504 919.712 309.458 920.036 311.412C920.360 313.365 920.678 315.319 920.992 317.272C921.306 319.225 921.615 321.178 921.920 323.131C922.224 325.084 922.524 327.037 922.821 328.989C923.117 330.941 923.409 332.894 923.697 334.846C923.985 336.798 924.270 338.750 924.552 340.702C924.833 342.654 925.111 344.606 925.386 346.558C925.661 348.510 925.934 350.462 926.203 352.414C926.473 354.366 926.740 356.319 927.005 358.271C927.270 360.223 927.533 362.175 927.794 364.127C928.055 366.080 928.315 368.032 928.572 369.985C928.830 371.938 929.087 373.891 929.342 375.844C929.598 377.797 929.852 379.750 930.106 381.704C930.360 383.657 930.613 385.611 930.866 387.565C931.118 389.519 931.371 391.474 931.624 393.429C931.876 395.383 932.128 397.339 932.381 399.294C932.633 401.249 932.885 403.205 933.137 405.161C933.389 407.117 933.641 409.073 933.893 411.030C934.144 412.987 934.396 414.944 934.648 416.901C934.899 418.858 935.151 420.815 935.403 422.773C935.654 424.731 935.906 426.689 936.157 428.647C936.409 430.605 936.660 432.563 936.912 434.522C937.163 436.481 937.415 438.440 937.666 440.399C937.918 442.358 938.169 444.317 938.421 446.277C938.673 448.236 938.925 450.196 939.176 452.156C939.428 454.116 939.680 456.076 939.932 458.036C940.184 459.996 940.436 461.957 940.688 463.917C940.941 465.878 941.193 467.839 941.446 469.800C941.698 471.761 941.951 473.722 942.204 475.683C942.457 477.644 942.710 479.606 942.963 481.567C943.216 483.529 943.470 485.491 943.724 487.452C943.977 489.414 944.231 491.376 944.485 493.338C944.740 495.300 944.994 497.262 945.249 499.224C945.504 501.187 945.759 503.149 946.014 505.111"/>
<path d="M947.15 513.84C947.412 515.832 947.672 517.822 947.933 519.812C948.193 521.802 948.454 523.792 948.716 525.782C948.977 527.773 949.239 529.763 949.501 531.753C949.763 533.743 950.026 535.733 950.289 537.724C950.552 539.714 950.815 541.704 951.079 543.694C951.343 545.684 951.608 547.675 951.872 549.665C952.137 551.655 952.403 553.645 952.669 555.635C952.935 557.626 953.201 559.616 953.468 561.606C953.735 563.596 954.003 565.586 954.271 567.576C954.539 569.566 954.808 571.556 955.077 573.546C955.347 575.536 955.617 577.525 955.887 579.515C956.158 581.505 956.429 583.495 956.701 585.484C956.973 587.474 957.245 589.463 957.518 591.452C957.792 593.442 958.065 595.431 958.340 597.420C958.614 599.409 958.890 601.398 959.166 603.387C959.442 605.376 959.718 607.365 959.996 609.353C960.273 611.342 960.551 613.330 960.830 615.319C961.109 617.307 961.389 619.295 961.670 621.283C961.950 623.271 962.232 625.259 962.514 627.246C962.796 629.234 963.079 631.221 963.363 633.209C963.647 635.196 963.931 637.183 964.217 639.170C964.503 641.156 964.789 643.143 965.076 645.129C965.364 647.116 965.652 649.102 965.941 651.088C966.230 653.074 966.521 655.059 966.812 657.045C967.103 659.030 967.396 661.015 967.689 663.000C967.983 664.985 968.278 666.969 968.574 668.953C968.871 670.938 969.169 672.921 969.468 674.905C969.767 676.888 970.069 678.871 970.371 680.854C970.674 682.837 970.979 684.819 971.285 686.801C971.592 688.783 971.901 690.764 972.211 692.745C972.522 694.726 972.835 696.707 973.150 698.687C973.465 700.667 973.782 702.646 974.102 704.625C974.422 706.604 974.744 708.582 975.069 710.560C975.393 712.538 975.721 714.516 976.051 716.492C976.381 718.469 976.714 720.445 977.050 722.421C977.386 724.396 977.725 726.371 978.067 728.345C978.409 730.320 978.754 732.293 979.102 734.266C979.451 736.239 979.803 738.211 980.158 740.183C980.513 742.154 980.871 744.125 981.233 746.095C981.596 748.065 981.961 750.035 982.331 752.003C982.700 753.972 983.074 755.939 983.451 757.906"/>
<path d="M984.67 764.18C985.050 766.127 985.437 768.073 985.827 770.018C986.218 771.963 986.612 773.907 987.011 775.850C987.410 777.794 987.814 779.736 988.221 781.677C988.629 783.619 989.042 785.559 989.459 787.499C989.876 789.439 990.298 791.377 990.724 793.315C991.151 795.252 991.583 797.189 992.019 799.125C992.456 801.060 992.897 802.995 993.344 804.929C993.790 806.862 994.242 808.795 994.699 810.726C995.157 812.658 995.619 814.588 996.087 816.517C996.555 818.446 997.029 820.375 997.508 822.302C997.987 824.229 998.472 826.154 998.962 828.079C999.452 830.004 999.948 831.928 1000.449 833.850C1000.950 835.773 1001.456 837.694 1001.966 839.615C1002.477 841.536 1002.992 843.455 1003.512 845.374C1004.032 847.292 1004.556 849.210 1005.083 851.127C1005.611 853.044 1006.143 854.960 1006.679 856.875C1007.214 858.791 1007.753 860.705 1008.295 862.619C1008.837 864.532 1009.383 866.445 1009.931 868.358C1010.479 870.270 1011.030 872.182 1011.584 874.093C1012.138 876.004 1012.694 877.914 1013.252 879.824C1013.810 881.734 1014.370 883.643 1014.932 885.552C1015.494 887.461 1016.057 889.369 1016.622 891.277C1017.187 893.185 1017.754 895.092 1018.321 896.999C1018.888 898.907 1019.456 900.813 1020.025 902.720C1020.594 904.626 1021.164 906.532 1021.733 908.438C1022.303 910.344 1022.873 912.250 1023.443 914.155C1024.013 916.061 1024.583 917.966 1025.153 919.871C1025.723 921.776 1026.293 923.681 1026.863 925.586C1027.433 927.491 1028.003 929.395 1028.573 931.300C1029.143 933.204 1029.713 935.108 1030.283 937.012C1030.853 938.916 1031.422 940.820 1031.992 942.724C1032.562 944.628 1033.132 946.532 1033.702 948.435C1034.271 950.339 1034.841 952.243 1035.410 954.146C1035.980 956.049 1036.549 957.953 1037.118 959.856C1037.687 961.759 1038.256 963.662 1038.825 965.566C1039.394 967.469 1039.963 969.372 1040.531 971.275C1041.100 973.178 1041.668 975.081 1042.236 976.984C1042.804 978.887 1043.372 980.790 1043.940 982.693C1044.507 984.596 1045.075 986.499 1045.642 988.402C1046.209 990.305 1046.776 992.208 1047.342 994.111C1047.909 996.014 1048.475 997.917 1049.041 999.820C1049.607 1001.723 1050.172 1003.626 1050.737 1005.529C1051.303 1007.432 1051.867 1009.336 1052.432 1011.239C1052.997 1013.142 1053.561 1015.046 1054.124 1016.949C1054.688 1018.853 1055.251 1020.756 1055.814 1022.660C1056.377 1024.564 1056.940 1026.468 1057.502 1028.372C1058.064 1030.276 1058.626 1032.180 1059.187 1034.084C1059.748 1035.988 1060.308 1037.892 1060.869 1039.797C1061.429 1041.702 1061.988 1043.606 1062.548 1045.511C1063.107 1047.416 1063.665 1049.321 1064.223 1051.226C1064.782 1053.132 1065.339 1055.037 1065.896 1056.943C1066.453 1058.848 1067.009 1060.754 1067.565 1062.660C1068.121 1064.566 1068.676 1066.473 1069.231 1068.379C1069.785 1070.286 1070.339 1072.193 1070.892 1074.100C1071.446 1076.007 1071.998 1077.914 1072.550 1079.822C1073.102 1081.730 1073.654 1083.638 1074.204 1085.546C1074.755 1087.454 1075.305 1089.362 1075.854 1091.271C1076.403 1093.180 1076.952 1095.089 1077.499 1096.999C1078.047 1098.908 1078.594 1100.818 1079.147 1102.726C1079.700 1104.633 1080.260 1106.538 1080.834 1108.438C1081.407 1110.338 1081.995 1112.232 1082.605 1114.119C1083.215 1116.005 1083.846 1117.884 1084.507 1119.751C1085.168 1121.619 1085.858 1123.475 1086.585 1125.318C1087.312 1127.161 1088.076 1128.990 1088.884 1130.802C1089.693 1132.614 1090.546 1134.410 1091.451 1136.186C1092.356 1137.962 1093.313 1139.719 1094.286 1141.474C1095.259 1143.230 1096.239 1144.992 1097.226 1146.749C1098.213 1148.507 1099.217 1150.251 1100.278 1151.939C1101.338 1153.626 1102.455 1155.257 1103.669 1156.786C1104.882 1158.316 1106.191 1159.744 1107.637 1161.028C1109.082 1162.311 1110.674 1163.444 1112.411 1164.403C1114.148 1165.363 1116.015 1166.156 1117.946 1166.791C1119.877 1167.426 1121.872 1167.903 1123.866 1168.231C1125.861 1168.558 1127.854 1168.736 1129.781 1168.772L1238.10 1168.85"/>
</g>
<g class="c" stroke="#000000">
<path d="M757.10 1168.85L764.45 1168.85C766.636 1168.565 768.715 1168.548 770.696 1167.972C772.678 1167.396 774.562 1166.683 776.356 1165.846C778.150 1165.008 779.853 1164.048 781.473 1162.978C783.093 1161.908 784.629 1160.729 786.089 1159.455C787.548 1158.182 788.931 1156.814 790.244 1155.365C791.557 1153.917 792.801 1152.389 793.981 1150.794C795.162 1149.200 796.279 1147.540 797.341 1145.829C798.403 1144.118 799.409 1142.355 800.366 1140.556C801.322 1138.757 802.230 1136.921 803.096 1135.063C803.961 1133.204 804.785 1131.324 805.573 1129.435C806.362 1127.547 807.115 1125.653 807.838 1123.757C808.561 1121.861 809.253 1119.963 809.915 1118.061C810.577 1116.160 811.211 1114.256 811.817 1112.349C812.424 1110.442 813.003 1108.532 813.558 1106.619C814.113 1104.706 814.643 1102.790 815.150 1100.871C815.658 1098.952 816.143 1097.030 816.608 1095.105C817.073 1093.180 817.517 1091.252 817.943 1089.320C818.370 1087.388 818.778 1085.453 819.171 1083.515C819.563 1081.577 819.939 1079.635 820.302 1077.690C820.665 1075.746 821.014 1073.797 821.352 1071.845C821.689 1069.894 822.014 1067.938 822.327 1065.980C822.641 1064.022 822.943 1062.060 823.234 1060.096C823.525 1058.132 823.805 1056.165 824.076 1054.195C824.346 1052.225 824.607 1050.252 824.858 1048.277C825.110 1046.302 825.352 1044.325 825.585 1042.345C825.819 1040.365 826.044 1038.383 826.262 1036.399C826.479 1034.415 826.689 1032.428 826.892 1030.440C827.094 1028.452 827.290 1026.463 827.480 1024.471C827.670 1022.480 827.853 1020.487 828.032 1018.492C828.210 1016.498 828.382 1014.502 828.550 1012.505C828.719 1010.508 828.882 1008.509 829.042 1006.510C829.201 1004.511 829.357 1002.511 829.509 1000.510C829.662 998.509 829.811 996.507 829.958 994.505C830.105 992.503 830.250 990.500 830.393 988.497C830.536 986.494 830.677 984.491 830.818 982.487C830.959 980.484 831.098 978.480 831.238 976.477C831.378 974.473 831.517 972.470 831.657 970.467C831.798 968.464 831.939 966.461 832.080 964.459C832.222 962.456 832.364 960.454 832.507 958.452C832.650 956.451 832.794 954.449 832.939 952.448C833.083 950.447 833.228 948.447 833.374 946.446C833.520 944.446 833.666 942.445 833.813 940.446C833.961 938.446 834.108 936.446 834.257 934.447C834.405 932.448 834.554 930.449 834.704 928.450C834.854 926.451 835.004 924.453 835.155 922.455C835.306 920.457 835.457 918.459 835.610 916.461C835.762 914.464 835.914 912.466 836.068 910.469C836.221 908.472 836.375 906.476 836.529 904.479C836.684 902.482 836.839 900.486 836.995 898.490C837.150 896.494 837.306 894.498 837.463 892.502C837.620 890.507 837.777 888.511 837.935 886.516C838.093 884.521 838.251 882.526 838.410 880.531C838.568 878.537 838.728 876.542 838.888 874.548C839.047 872.553 839.208 870.559 839.369 868.565C839.529 866.571 839.691 864.578 839.852 862.584C840.014 860.591 840.176 858.597 840.339 856.604C840.502 854.611 840.665 852.618 840.829 850.625C840.992 848.632 841.156 846.640 841.321 844.647C841.485 842.655 841.650 840.662 841.816 838.670C841.981 836.678 842.147 834.686 842.313 832.694C842.479 830.702 842.645 828.710 842.812 826.718C842.979 824.727 843.147 822.735 843.314 820.744C843.482 818.753 843.650 816.761 843.819 814.770C843.987 812.779 844.156 810.788 844.325 808.797C844.494 806.806 844.664 804.815 844.833 802.825C845.003 800.834 845.173 798.843 845.344 796.853C845.514 794.862 845.685 792.872 845.856 790.881C846.027 788.891 846.199 786.901 846.370 784.911C846.542 782.920 846.714 780.930 846.886 778.940C847.059 776.950 847.231 774.960 847.404 772.970C847.577 770.980 847.750 768.990 847.923 767.001C848.096 765.011 848.270 763.021 848.444 761.031C848.618 759.041 848.792 757.052 848.966 755.062C849.140 753.072 849.315 751.083 849.489 749.093C849.664 747.103 849.839 745.114 850.014 743.124C850.189 741.134 850.364 739.145 850.540 737.155C850.715 735.166 850.891 733.176 851.067 731.186C851.242 729.197 851.418 727.207 851.595 725.217C851.771 723.228 851.947 721.238 852.123 719.249C852.300 717.259 852.476 715.269 852.653 713.279C852.830 711.290 853.006 709.300 853.183 707.310C853.360 705.320 853.537 703.330 853.714 701.341C853.891 699.351 854.069 697.361 854.246 695.371C854.423 693.381 854.600 691.391 854.778 689.401C854.955 687.410 855.133 685.420 855.310 683.430C855.488 681.440 855.665 679.449 855.843 677.459C856.021 675.468 856.198 673.478 856.376 671.487C856.554 669.497 856.731 667.506 856.909 665.515C857.087 663.524 857.265 661.534 857.442 659.542C857.620 657.551 857.798 655.560 857.976 653.569C858.153 651.578 858.331 649.586 858.509 647.595C858.686 645.603 858.864 643.612 859.042 641.620C859.219 639.628 859.397 637.637 859.575 635.645C859.752 633.653 859.930 631.661 860.107 629.668C860.285 627.676 860.463 625.684 860.640 623.692C860.818 621.699 860.996 619.707 861.173 617.714C861.351 615.722 861.529 613.729 861.706 611.736C861.884 609.744 862.062 607.751 862.240 605.758C862.417 603.765 862.595 601.772 862.773 599.779C862.951 597.786 863.129 595.793 863.307 593.800C863.485 591.807 863.663 589.813 863.841 587.820C864.019 585.827 864.197 583.834 864.375 581.840C864.553 579.847 864.732 577.853 864.910 575.860C865.088 573.866 865.267 571.873 865.445 569.879C865.624 567.886 865.802 565.892 865.981 563.899C866.160 561.905 866.338 559.912 866.517 557.918C866.696 555.924 866.875 553.931 867.054 551.937C867.233 549.943 867.413 547.949 867.592 545.956C867.771 543.962 867.951 541.968 868.130 539.975C868.310 537.981 868.489 535.987 868.669 533.993C868.849 532.000 869.029 530.006 869.209 528.012C869.389 526.019 869.569 524.025 869.750 522.031C869.930 520.038 870.111 518.044 870.291 516.050C870.472 514.057 870.653 512.063 870.834 510.070C871.015 508.076 871.196 506.082 871.377 504.089C871.559 502.095 871.740 500.102 871.922 498.109C872.104 496.115 872.286 494.122 872.468 492.129C872.650 490.135 872.832 488.142 873.015 486.149C873.197 484.156 873.380 482.162 873.563 480.169C873.745 478.176 873.929 476.183 874.112 474.190C874.295 472.197 874.479 470.204 874.662 468.212C874.846 466.219 875.030 464.226 875.214 462.234C875.399 460.241 875.583 458.248 875.768 456.256C875.952 454.263 876.137 452.271 876.322 450.279C876.508 448.287 876.693 446.294 876.879 444.302C877.064 442.310 877.250 440.318 877.436 438.327C877.623 436.335 877.809 434.343 877.996 432.351C878.182 430.360 878.369 428.368 878.557 426.377C878.744 424.386 878.932 422.394 879.119 420.403C879.307 418.412 879.495 416.421 879.684 414.430C879.872 412.440 880.061 410.449 880.250 408.458C880.439 406.468 880.628 404.477 880.818 402.487C881.008 400.497 881.198 398.507 881.388 396.517C881.578 394.527 881.769 392.537 881.960 390.548C882.151 388.558 882.342 386.568 882.534 384.579C882.725 382.590 882.917 380.601 883.109 378.612C883.302 376.623 883.494 374.634 883.687 372.646C883.880 370.657 884.074 368.669 884.267 366.681C884.461 364.692 884.655 362.704 884.850 360.717C885.044 358.729 885.239 356.741 885.434 354.754C885.629 352.767 885.825 350.779 886.021 348.792C886.217 346.805 886.413 344.819 886.610 342.832C886.807 340.846 887.004 338.859 887.201 336.873C887.399 334.887 887.597 332.901 887.795 330.916C887.993 328.930 888.192 326.945 888.391 324.960C888.591 322.974 888.790 320.990 888.990 319.005C889.190 317.020 889.391 315.036 889.592 313.052C889.792 311.067 889.994 309.084 890.196 307.100C890.397 305.116 890.600 303.133 890.802 301.150C891.005 299.167 891.209 297.184 891.416 295.201C891.623 293.218 891.833 291.236 892.049 289.253C892.266 287.271 892.488 285.288 892.719 283.306C892.950 281.323 893.189 279.340 893.440 277.358C893.690 275.375 893.951 273.392 894.227 271.409C894.502 269.425 894.790 267.442 895.095 265.458C895.400 263.474 895.721 261.490 896.061 259.505C896.401 257.521 896.759 255.535 897.139 253.550C897.519 251.564 897.920 249.577 898.345 247.590C898.770 245.603 899.216 243.614 899.694 241.627C900.171 239.641 900.695 237.666 901.439 235.817C902.184 233.968 903.149 232.245 904.509 230.760C905.868 229.276 907.666 228.017 909.445 227.999C911.225 227.981 913.022 228.943 914.618 230.273C916.214 231.603 917.564 233.221 918.669 234.918C919.775 236.616 920.659 238.436 921.403 240.321C922.148 242.205 922.753 244.154 923.300 246.109C923.847 248.063 924.343 250.018 924.807 251.969C925.271 253.921 925.701 255.871 926.112 257.821C926.522 259.771 926.912 261.722 927.296 263.674C927.680 265.626 928.057 267.579 928.427 269.535C928.797 271.490 929.160 273.447 929.517 275.405C929.874 277.363 930.224 279.323 930.567 281.284C930.911 283.245 931.248 285.208 931.580 287.172C931.911 289.136 932.236 291.101 932.555 293.068C932.875 295.035 933.188 297.003 933.496 298.972C933.804 300.941 934.106 302.911 934.403 304.883C934.699 306.855 934.991 308.828 935.277 310.802C935.564 312.776 935.845 314.751 936.121 316.727C936.397 318.703 936.669 320.680 936.936 322.658C937.202 324.637 937.465 326.616 937.722 328.596C937.980 330.576 938.234 332.557 938.483 334.539C938.732 336.521 938.977 338.504 939.218 340.488C939.460 342.472 939.697 344.456 939.931 346.442C940.164 348.427 940.394 350.413 940.621 352.400C940.848 354.387 941.071 356.374 941.291 358.362C941.511 360.351 941.728 362.339 941.942 364.329C942.156 366.318 942.367 368.308 942.575 370.299C942.783 372.289 942.989 374.280 943.192 376.272C943.396 378.263 943.596 380.255 943.795 382.248C943.994 384.240 944.190 386.233 944.385 388.226C944.579 390.219 944.772 392.212 944.963 394.206C945.154 396.200 945.343 398.194 945.531 400.188C945.718 402.183 945.905 404.177 946.090 406.172C946.275 408.166 946.459 410.161 946.642 412.156C946.825 414.151 947.007 416.146 947.188 418.141C947.369 420.136 947.550 422.131 947.730 424.126C947.910 426.122 948.090 428.117 948.269 430.112C948.448 432.107 948.628 434.102 948.806 436.096C948.985 438.091 949.164 440.086 949.343 442.081C949.521 444.076 949.699 446.070 949.877 448.065C950.056 450.059 950.233 452.054 950.411 454.048C950.589 456.043 950.766 458.037 950.943 460.031C951.121 462.026 951.298 464.020 951.475 466.014C951.651 468.008 951.828 470.003 952.005 471.997C952.181 473.991 952.357 475.985 952.533 477.979C952.710 479.972 952.885 481.966 953.061 483.960C953.237 485.954 953.413 487.948 953.588 489.941C953.763 491.935 953.939 493.929 954.114 495.922C954.289 497.916 954.464 499.909 954.638 501.903C954.813 503.896 954.988 505.890 955.162 507.883C955.337 509.876 955.511 511.870 955.685 513.863C955.859 515.856 956.033 517.849 956.207 519.842C956.381 521.835 956.555 523.829 956.728 525.822C956.902 527.815 957.075 529.808 957.249 531.800C957.422 533.793 957.595 535.786 957.768 537.779C957.942 539.772 958.114 541.765 958.287 543.757C958.460 545.750 958.633 547.743 958.806 549.735C958.978 551.728 959.151 553.721 959.323 555.713C959.496 557.706 959.668 559.698 959.840 561.691C960.012 563.683 960.185 565.676 960.357 567.668C960.529 569.660 960.701 571.653 960.873 573.645C961.044 575.637 961.216 577.629 961.388 579.622C961.560 581.614 961.731 583.606 961.903 585.598C962.075 587.590 962.246 589.582 962.418 591.575C962.589 593.567 962.760 595.559 962.932 597.551C963.103 599.543 963.274 601.535 963.445 603.526C963.617 605.518 963.788 607.510 963.959 609.502C964.130 611.494 964.301 613.486 964.472 615.478C964.643 617.469 964.814 619.461 964.985 621.453C965.156 623.445 965.327 625.436 965.498 627.428C965.669 629.420 965.840 631.411 966.011 633.403C966.182 635.395 966.352 637.386 966.523 639.378C966.694 641.369 966.865 643.361 967.036 645.353C967.206 647.344 967.377 649.336 967.548 651.327C967.719 653.319 967.890 655.310 968.060 657.302C968.231 659.293 968.402 661.284 968.573 663.276C968.743 665.267 968.914 667.259 969.085 669.250C969.256 671.241 969.427 673.233 969.598 675.224C969.769 677.215 969.939 679.207 970.110 681.198C970.281 683.189 970.452 685.181 970.623 687.172C970.794 689.163 970.965 691.154 971.136 693.146C971.307 695.137 971.478 697.128 971.650 699.119C971.821 701.111 971.992 703.102 972.163 705.093C972.334 707.084 972.506 709.075 972.677 711.067C972.848 713.058 973.020 715.049 973.191 717.040C973.363 719.031 973.534 721.023 973.706 723.014C973.878 725.005 974.049 726.996 974.221 728.987C974.393 730.978 974.565 732.970 974.737 734.961C974.909 736.952 975.081 738.943 975.253 740.934C975.425 742.925 975.597 744.916 975.769 746.908C975.942 748.899 976.114 750.890 976.286 752.881C976.459 754.872 976.632 756.863 976.804 758.855C976.977 760.846 977.150 762.837 977.323 764.828C977.496 766.819 977.669 768.810 977.842 770.802C978.015 772.793 978.188 774.784 978.362 776.775C978.535 778.766 978.709 780.757 978.882 782.749C979.056 784.740 979.230 786.731 979.404 788.722C979.578 790.714 979.752 792.705 979.926 794.696C980.100 796.687 980.275 798.679 980.449 800.670C980.624 802.661 980.798 804.652 980.973 806.644C981.148 808.635 981.323 810.626 981.498 812.618C981.674 814.609 981.849 816.600 982.024 818.592C982.200 820.583 982.376 822.574 982.551 824.566C982.727 826.557 982.903 828.549 983.079 830.540C983.256 832.532 983.432 834.523 983.609 836.514C983.785 838.506 983.962 840.497 984.139 842.489C984.316 844.481 984.493 846.472 984.670 848.464C984.848 850.455 985.025 852.447 985.203 854.438C985.381 856.430 985.559 858.422 985.737 860.413C985.915 862.405 986.094 864.397 986.272 866.389C986.451 868.380 986.630 870.372 986.809 872.364C986.988 874.356 987.167 876.347 987.347 878.339C987.526 880.331 987.706 882.323 987.886 884.315C988.066 886.307 988.246 888.299 988.427 890.291C988.607 892.283 988.788 894.275 988.969 896.267C989.150 898.259 989.331 900.251 989.513 902.243C989.694 904.235 989.876 906.227 990.058 908.220C990.240 910.212 990.422 912.204 990.605 914.196C990.787 916.189 990.970 918.181 991.153 920.173C991.336 922.166 991.520 924.158 991.703 926.150C991.887 928.143 992.071 930.135 992.255 932.128C992.439 934.120 992.624 936.113 992.809 938.106C992.994 940.098 993.179 942.091 993.364 944.084C993.549 946.076 993.735 948.069 993.921 950.062C994.107 952.055 994.293 954.048 994.480 956.040C994.667 958.033 994.854 960.026 995.041 962.019C995.228 964.012 995.416 966.005 995.604 967.998C995.791 969.992 995.980 971.985 996.168 973.978C996.357 975.971 996.546 977.964 996.735 979.958C996.924 981.951 997.114 983.944 997.304 985.938C997.493 987.931 997.684 989.925 997.874 991.918C998.065 993.912 998.256 995.905 998.447 997.899C998.638 999.893 998.830 1001.887 999.022 1003.880C999.214 1005.874 999.406 1007.868 999.599 1009.862C999.792 1011.856 999.986 1013.849 1000.182 1015.843C1000.378 1017.836 1000.576 1019.830 1000.777 1021.822C1000.978 1023.815 1001.181 1025.807 1001.389 1027.799C1001.597 1029.790 1001.808 1031.781 1002.025 1033.771C1002.241 1035.760 1002.463 1037.749 1002.690 1039.737C1002.918 1041.725 1003.151 1043.711 1003.392 1045.696C1003.632 1047.681 1003.879 1049.665 1004.135 1051.647C1004.390 1053.629 1004.653 1055.609 1004.926 1057.588C1005.198 1059.567 1005.479 1061.543 1005.770 1063.518C1006.062 1065.493 1006.363 1067.465 1006.675 1069.436C1006.987 1071.406 1007.310 1073.374 1007.646 1075.340C1007.981 1077.305 1008.328 1079.268 1008.688 1081.228C1009.048 1083.189 1009.421 1085.146 1009.809 1087.101C1010.196 1089.056 1010.597 1091.007 1011.013 1092.956C1011.429 1094.904 1011.860 1096.849 1012.308 1098.791C1012.755 1100.733 1013.218 1102.672 1013.698 1104.607C1014.179 1106.542 1014.676 1108.473 1015.191 1110.400C1015.707 1112.328 1016.240 1114.251 1016.792 1116.171C1017.345 1118.090 1017.916 1120.006 1018.508 1121.917C1019.099 1123.828 1019.709 1125.736 1020.347 1127.635C1020.985 1129.535 1021.651 1131.426 1022.357 1133.303C1023.063 1135.179 1023.810 1137.042 1024.607 1138.884C1025.405 1140.727 1026.253 1142.549 1027.165 1144.345C1028.077 1146.142 1029.051 1147.913 1030.100 1149.651C1031.148 1151.388 1032.270 1153.087 1033.473 1154.711C1034.677 1156.334 1035.961 1157.882 1037.334 1159.318C1038.708 1160.754 1040.170 1162.078 1041.730 1163.252C1043.289 1164.426 1044.945 1165.451 1046.706 1166.290C1048.466 1167.129 1050.331 1167.781 1052.309 1168.211C1054.287 1168.640 1056.377 1168.846 1058.587 1168.792L1238.10 1168.85"/>
</g>
<g class="ax">
<path d="M168.9 72.9 V1234.9 H1795.7"/>
<path d="M168.9 1168.85 h19.8"/>
<path d="M168.9 696.38 h19.8"/>
<path d="M168.9 223.90 h19.8"/>
<path d="M208.10 1234.9 v-19.8"/>
<path d="M637.30 1234.9 v-19.8"/>
<path d="M1066.50 1234.9 v-19.8"/>
<path d="M1495.70 1234.9 v-19.8"/>
</g>
<g stroke="#000" stroke-width="1.4" opacity="0.55">
<path d="M165.9 932.61 h6"/>
<path d="M165.9 460.14 h6"/>
</g>
<text transform="translate(48.16 245.08) scale(1 1.0674)" clip-path="url(#c1)"><tspan x="0.00">1</tspan><tspan x="37.89">.</tspan><tspan x="57.61">0</tspan></text>
<text transform="translate(45.70 717.08) scale(1 1.0674)">0.5</text>
<text transform="translate(45.70 1190.08) scale(1 1.0674)">0.0</text>
<text transform="translate(156.40 1315.08) scale(1 1.0674)" clip-path="url(#c2)"><tspan x="0.00">0</tspan><tspan x="41.30">.</tspan><tspan x="63.77">1</tspan></text>
<text transform="translate(619.17 1315.08) scale(1 1.0674)" clip-path="url(#c1)"><tspan x="0.00">1</tspan></text>
<text transform="translate(1028.30 1315.08) scale(1 1.0674)" clip-path="url(#c1)"><tspan x="0.00">1</tspan><tspan x="37.30">0</tspan></text>
<text transform="translate(1437.25 1315.08) scale(1 1.0674)" clip-path="url(#c1)"><tspan x="0.00">1</tspan><tspan x="37.45">0</tspan><tspan x="78.49">0</tspan></text>
<text><tspan class="i" font-size="76.7" x="200.80" dy="95.71">I</tspan><tspan font-size="74.7" x="220.30" dy="0.20">/</tspan><tspan class="i" font-size="76.7" x="241.10" dy="-0.20">I</tspan><tspan class="s" x="259.65" dy="29.39">max</tspan></text>
<text><tspan class="i" font-size="76" x="1494.80" dy="1165.00">R</tspan><tspan class="s" x="1545.80" dy="28.86">h-</tspan><tspan class="s" font-size="45.6" x="1584.10">D</tspan><tspan font-size="74.5" x="1615.40" dy="-28.86">(</tspan><tspan class="i" x="1642.70">c</tspan><tspan font-size="74.5" x="1680.70">)</tspan><tspan x="1701.80">,</tspan><tspan x="1721.50"> nm</tspan></text>
<text transform="translate(1446.10 425.20) scale(1 0.992)" class="i">acetonitrile</text>
<text transform="translate(1447.40 515.75) scale(0.985 1.065)" class="i">THF</text>
<text transform="translate(1446.70 606.15) scale(1.002 0.992)" class="i">chloroform</text>
<text transform="translate(1447.60 696.20) scale(1.006 0.992)" class="i">water</text>
<path class="l" stroke="#0000a0" d="M1241.7 399.50 H1404.6"/>
<path class="l" stroke="#ff0000" d="M1241.7 489.95 H1404.6"/>
<path class="l" stroke="#008000" d="M1241.7 580.40 H1404.6"/>
<path class="l" stroke="#000000" d="M1241.7 670.85 H1404.6"/>
</svg>
</body></html>
